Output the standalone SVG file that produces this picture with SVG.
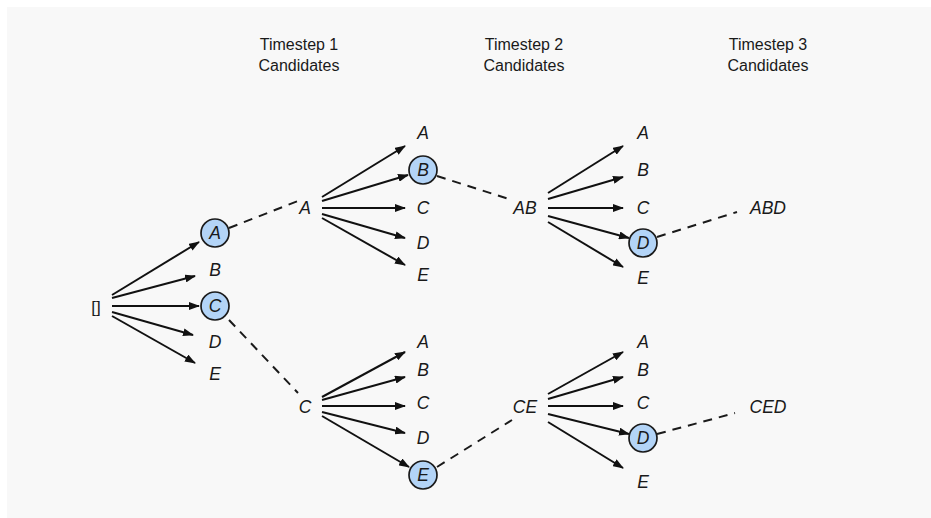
<svg xmlns="http://www.w3.org/2000/svg" width="931" height="518" viewBox="0 0 931 518">
<style>
.hdr{font-family:"Liberation Sans",Arial,sans-serif;font-size:16px;fill:#1a1a1a;text-anchor:middle}
.lbl{font-family:"Liberation Sans",Arial,sans-serif;font-size:17.5px;font-style:italic;fill:#1a1a1a;text-anchor:middle}
.root{font-family:"Liberation Sans",Arial,sans-serif;font-size:17px;fill:#1a1a1a;text-anchor:middle}
.sel{fill:#b3d4f7;stroke:#1a1a1a;stroke-width:1.7}
.arr{stroke:#111;stroke-width:2;fill:none;marker-end:url(#ah)}
.dash{stroke:#1a1a1a;stroke-width:2;fill:none;stroke-dasharray:9 7}
</style>
<defs>
<marker id="ah" markerUnits="userSpaceOnUse" markerWidth="11" markerHeight="8" refX="10" refY="4" orient="auto">
<path d="M0,0 L11,4 L0,8 z" fill="#111"/>
</marker>
</defs>
<rect x="0" y="0" width="931" height="518" fill="#ffffff"/>
<rect x="7" y="7" width="924" height="511" fill="#f8f8f8"/>

<g id="headers">
<text class="hdr" x="299" y="50">Timestep 1</text>
<text class="hdr" x="299" y="71">Candidates</text>
<text class="hdr" x="524" y="50">Timestep 2</text>
<text class="hdr" x="524" y="71">Candidates</text>
<text class="hdr" x="768" y="50">Timestep 3</text>
<text class="hdr" x="768" y="71">Candidates</text>
</g>

<g id="connectors">
<line class="arr" x1="112" y1="295" x2="199" y2="242"/>
<line class="arr" x1="112" y1="298" x2="195" y2="276"/>
<line class="arr" x1="112" y1="306" x2="199" y2="306"/>
<line class="arr" x1="112" y1="312" x2="193" y2="335"/>
<line class="arr" x1="112" y1="316" x2="195" y2="363"/>

<line class="arr" x1="322" y1="197" x2="405" y2="146"/>
<line class="arr" x1="322" y1="201" x2="408" y2="175"/>
<line class="arr" x1="322" y1="208" x2="405" y2="208"/>
<line class="arr" x1="322" y1="214" x2="405" y2="238"/>
<line class="arr" x1="322" y1="218" x2="405" y2="265"/>

<line class="arr" x1="322" y1="397" x2="405" y2="352"/>
<line class="arr" x1="322" y1="400" x2="405" y2="377"/>
<line class="arr" x1="322" y1="406" x2="405" y2="406"/>
<line class="arr" x1="322" y1="412" x2="405" y2="433"/>
<line class="arr" x1="322" y1="416" x2="409" y2="467"/>

<line class="arr" x1="548" y1="193" x2="623" y2="146"/>
<line class="arr" x1="548" y1="199" x2="623" y2="177"/>
<line class="arr" x1="548" y1="208" x2="623" y2="208"/>
<line class="arr" x1="548" y1="216" x2="629" y2="238"/>
<line class="arr" x1="548" y1="222" x2="623" y2="267"/>

<line class="arr" x1="548" y1="394" x2="623" y2="352"/>
<line class="arr" x1="548" y1="399" x2="623" y2="377"/>
<line class="arr" x1="548" y1="406" x2="623" y2="406"/>
<line class="arr" x1="548" y1="414" x2="629" y2="434"/>
<line class="arr" x1="548" y1="422" x2="623" y2="468"/>

<line class="dash" x1="229" y1="228" x2="298" y2="201"/>
<line class="dash" x1="229" y1="320" x2="298" y2="393"/>
<line class="dash" x1="437" y1="176" x2="512" y2="200"/>
<line class="dash" x1="437" y1="467" x2="512" y2="420"/>
<line class="dash" x1="657" y1="237" x2="737" y2="212"/>
<line class="dash" x1="657" y1="434" x2="735" y2="413"/>
</g>

<g id="root"><text class="root" x="96" y="313">[]</text></g>

<g id="t1-A"><circle class="sel" cx="215" cy="233" r="14"/><text class="lbl" x="215" y="239">A</text></g>
<g id="t1-B"><text class="lbl" x="215" y="276">B</text></g>
<g id="t1-C"><circle class="sel" cx="215" cy="306" r="14"/><text class="lbl" x="215" y="312">C</text></g>
<g id="t1-D"><text class="lbl" x="215" y="348">D</text></g>
<g id="t1-E"><text class="lbl" x="215" y="380">E</text></g>

<g id="beam-A"><text class="lbl" x="305" y="214">A</text></g>
<g id="beam-C"><text class="lbl" x="305" y="413">C</text></g>

<g id="t2a-A"><text class="lbl" x="423" y="139">A</text></g>
<g id="t2a-B"><circle class="sel" cx="423" cy="170" r="14"/><text class="lbl" x="423" y="176">B</text></g>
<g id="t2a-C"><text class="lbl" x="423" y="214">C</text></g>
<g id="t2a-D"><text class="lbl" x="423" y="249">D</text></g>
<g id="t2a-E"><text class="lbl" x="423" y="281">E</text></g>

<g id="t2c-A"><text class="lbl" x="423" y="348">A</text></g>
<g id="t2c-B"><text class="lbl" x="423" y="376">B</text></g>
<g id="t2c-C"><text class="lbl" x="423" y="409">C</text></g>
<g id="t2c-D"><text class="lbl" x="423" y="444">D</text></g>
<g id="t2c-E"><circle class="sel" cx="423" cy="475" r="14"/><text class="lbl" x="423" y="481">E</text></g>

<g id="beam-AB"><text class="lbl" x="525" y="214">AB</text></g>
<g id="beam-CE"><text class="lbl" x="525" y="413">CE</text></g>

<g id="t3ab-A"><text class="lbl" x="643" y="139">A</text></g>
<g id="t3ab-B"><text class="lbl" x="643" y="176">B</text></g>
<g id="t3ab-C"><text class="lbl" x="643" y="214">C</text></g>
<g id="t3ab-D"><circle class="sel" cx="643" cy="243" r="14"/><text class="lbl" x="643" y="249">D</text></g>
<g id="t3ab-E"><text class="lbl" x="643" y="284">E</text></g>

<g id="t3ce-A"><text class="lbl" x="643" y="348">A</text></g>
<g id="t3ce-B"><text class="lbl" x="643" y="376">B</text></g>
<g id="t3ce-C"><text class="lbl" x="643" y="409">C</text></g>
<g id="t3ce-D"><circle class="sel" cx="643" cy="438" r="14"/><text class="lbl" x="643" y="444">D</text></g>
<g id="t3ce-E"><text class="lbl" x="643" y="488">E</text></g>

<g id="beam-ABD"><text class="lbl" x="768" y="214">ABD</text></g>
<g id="beam-CED"><text class="lbl" x="768" y="413">CED</text></g>
</svg>
